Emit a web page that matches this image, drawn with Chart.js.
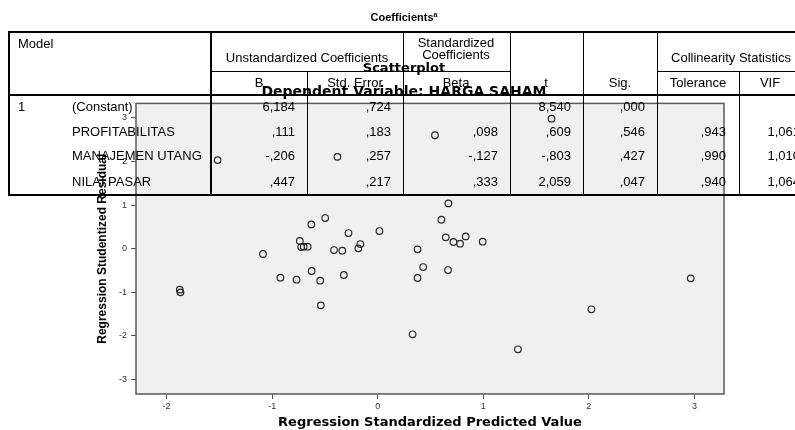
<!DOCTYPE html>
<html>
<head>
<meta charset="utf-8">
<script src="https://cdn.jsdelivr.net/npm/chart.js@4.4.0/dist/chart.umd.min.js"></script>
<style>
  body { margin: 0; background: #fff; overflow: hidden; }
  #wrap { position: relative; width: 795px; height: 430px; overflow: hidden; }
  #myChart { position: absolute; left: 0; top: 0; }
  #tbl { position: absolute; left: 0; top: 0; width: 795px; height: 430px; pointer-events: none; }
  .ln { position: absolute; background: #000; }
  .tx { position: absolute; font-family: "Liberation Sans", Arial, sans-serif; font-size: 13px; line-height: 14px; color: #000; white-space: nowrap; }
</style>
</head>
<body>
<div id="wrap">
  <canvas id="myChart" width="795" height="430"></canvas>
  <div id="tbl"></div>
</div>
<script>
// scatter data
const predictedValue = [
  -1.875, -1.869, -1.087, -0.922, -0.769, -0.738, -0.726, -0.701, -0.664, -0.629,
  -0.626, -0.545, -0.539, -0.498, -0.414, -0.336, -0.321, -0.277, -0.184, -0.165,
  0.016, 0.330, 0.377, 0.377, 0.430, 0.669, 0.603, 0.644, 0.717, 0.780,
  0.833, 0.994, 0.666, 2.965, 2.024, 1.328, -1.517, -0.382, 0.542, 1.646,
];
const studentizedResidual = [
  -0.939, -1.0, -0.122, -0.664, -0.71, 0.176, 0.038, 0.046, 0.046, 0.557,
  -0.511, -0.733, -1.298, 0.702, -0.031, -0.046, -0.603, 0.359, 0.008, 0.107,
  0.405, -1.962, -0.015, -0.672, -0.42, 1.038, 0.664, 0.26, 0.153, 0.115,
  0.282, 0.16, -0.489, -0.679, -1.389, -2.305, 2.03, 2.105, 2.6, 2.98,
];
const xTicks = [-2, -1, 0, 1, 2, 3];
const yTicks = [-3, -2, -1, 0, 1, 2, 3];

// coefficients table
const modelTerms = ["(Constant)", "PROFITABILITAS", "MANAJEMEN UTANG", "NILAI PASAR"];
const coefB = ["6,184", ",111", "-,206", ",447"];
const coefSE = [",724", ",183", ",257", ",217"];
const coefBeta = ["", ",098", "-,127", ",333"];
const tValues = ["8,540", ",609", "-,803", "2,059"];
const sigValues = [",000", ",546", ",427", ",047"];
const tolerance = ["", ",943", ",990", ",940"];
const vif = ["", "1,061", "1,010", "1,064"];

const points = predictedValue.map((x, i) => ({ x: x, y: studentizedResidual[i] }));

const plotBox = {
  id: "plotBox",
  beforeDraw(chart) {
    const a = chart.chartArea, ctx = chart.ctx;
    ctx.save();
    ctx.fillStyle = "#f0f0f0";
    ctx.fillRect(a.left, a.top, a.right - a.left, a.bottom - a.top);
    ctx.restore();
  },
  beforeDatasetsDraw(chart) {
    const a = chart.chartArea, ctx = chart.ctx;
    ctx.save();
    ctx.strokeStyle = "#5a5a5a";
    ctx.lineWidth = 1.5;
    ctx.strokeRect(a.left, a.top, a.right - a.left, a.bottom - a.top);
    ctx.restore();
  },
};

const tickFont = { family: "Liberation Sans", size: 9 };

new Chart(document.getElementById("myChart"), {
  type: "scatter",
  data: {
    datasets: [
      {
        data: points,
        pointRadius: 3.3,
        pointBorderWidth: 1.2,
        pointBorderColor: "#2a2a2a",
        pointBackgroundColor: "rgba(0,0,0,0)",
      },
    ],
  },
  options: {
    responsive: false,
    animation: false,
    layout: { padding: { left: 84, right: 71, top: 61, bottom: 0 } },
    plugins: {
      legend: { display: false },
      tooltip: { enabled: false },
      title: {
        display: true,
        text: "Scatterplot",
        color: "#000",
        font: { family: "DejaVu Sans", size: 13, weight: "bold" },
        padding: { top: 0, bottom: 7 },
      },
      subtitle: {
        display: true,
        text: "Dependent Variable: HARGA SAHAM",
        color: "#000",
        font: { family: "DejaVu Sans", size: 14, weight: "bold" },
        padding: { top: 0, bottom: 3 },
      },
    },
    scales: {
      x: {
        min: -2.29,
        max: 3.28,
        afterFit: (s) => { s.height = 36; },
        afterBuildTicks: (s) => { s.ticks = xTicks.map((v) => ({ value: v })); },
        ticks: { font: tickFont, color: "#333", padding: 2, maxRotation: 0 },
        grid: { drawOnChartArea: false, tickLength: 5, color: "#555" },
        border: { display: false },
        title: {
          display: true,
          text: "Regression Standardized Predicted Value",
          color: "#000",
          font: { family: "DejaVu Sans", size: 13, weight: "bold" },
          padding: { top: 0, bottom: 0 },
        },
      },
      y: {
        min: -3.33,
        max: 3.33,
        afterFit: (s) => { s.width = 52; },
        afterBuildTicks: (s) => { s.ticks = yTicks.map((v) => ({ value: v })); },
        ticks: { font: tickFont, color: "#333", padding: 4 },
        grid: { drawOnChartArea: false, tickLength: 5, color: "#555" },
        border: { display: false },
        title: {
          display: true,
          text: "Regression Studentized Residual",
          color: "#000",
          font: { family: "Liberation Sans", size: 12, weight: "bold" },
          padding: { top: 11, bottom: 0 },
        },
      },
    },
  },
  plugins: [plotBox],
});

// table overlay drawn as html on top of the chart
const tbl = document.getElementById("tbl");
function line(x1, y1, x2, y2, w) {
  const d = document.createElement("div");
  d.className = "ln";
  if (y1 === y2) {
    d.style.left = x1 + "px"; d.style.top = (y1 - w / 2) + "px";
    d.style.width = (x2 - x1) + "px"; d.style.height = w + "px";
  } else {
    d.style.left = (x1 - w / 2) + "px"; d.style.top = y1 + "px";
    d.style.width = w + "px"; d.style.height = (y2 - y1) + "px";
  }
  tbl.appendChild(d);
}
function txt(s, x, y, align, extra) {
  const d = document.createElement("div");
  d.className = "tx";
  d.innerHTML = s;
  d.style.top = (y - 7) + "px";
  if (align === "l") d.style.left = x + "px";
  else if (align === "r") d.style.right = (795 - x) + "px";
  else { d.style.left = x + "px"; d.style.transform = "translateX(-50%)"; }
  if (extra) Object.assign(d.style, extra);
  tbl.appendChild(d);
}

const R = 812;
line(8, 32, R, 32, 2);
line(8, 95, R, 95, 2);
line(8, 195, R, 195, 2);
line(211, 71, 510, 71, 1);
line(657, 71, R, 71, 1);
line(9, 31, 9, 196, 2);
line(211, 31, 211, 196, 2);
line(307, 71, 307, 195, 1);
line(403, 32, 403, 195, 1);
line(510, 32, 510, 195, 1);
line(583, 32, 583, 195, 1);
line(657, 32, 657, 195, 1);
line(739, 71, 739, 195, 1);

txt('Coefficients<sup style="font-size:7px;vertical-align:4px">a</sup>', 404, 15, "c",
  { fontWeight: "bold", fontSize: "11px" });
txt("Model", 18, 44, "l");
txt("Unstandardized Coefficients", 307, 58, "c");
txt("Standardized", 456, 43, "c");
txt("Coefficients", 456, 55, "c");
txt("Collinearity Statistics", 731, 58, "c");
txt("B", 259, 83, "c");
txt("Std. Error", 355, 83, "c");
txt("Beta", 456, 83, "c");
txt("t", 546, 83, "c");
txt("Sig.", 620, 83, "c");
txt("Tolerance", 698, 83, "c");
txt("VIF", 770, 83, "c");

const rowY = [107, 132, 156, 182];
txt("1", 18, rowY[0], "l");
modelTerms.forEach((name, i) => {
  const y = rowY[i];
  txt(name, 72, y, "l");
  txt(coefB[i], 295, y, "r");
  txt(coefSE[i], 391, y, "r");
  txt(coefBeta[i], 498, y, "r");
  txt(tValues[i], 571, y, "r");
  txt(sigValues[i], 645, y, "r");
  txt(tolerance[i], 726, y, "r");
  txt(vif[i], 800, y, "r");
});
</script>
</body>
</html>
